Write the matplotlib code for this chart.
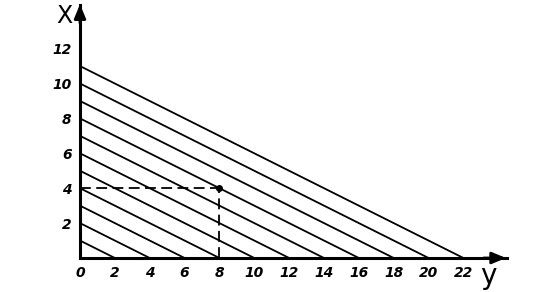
import matplotlib
matplotlib.use("Agg")
import matplotlib.pyplot as plt
import numpy as np

# Data
levels = [1, 2, 3, 4, 5, 6, 7, 8, 9, 10, 11]   # x + y/2 = level
y_ticks = [0, 2, 4, 6, 8, 10, 12, 14, 16, 18, 20, 22]
x_ticks = [2, 4, 6, 8, 10, 12]
point_y, point_x = 8, 4

W, H = 560, 292
fig = plt.figure(figsize=(W / 100, H / 100), dpi=100)
ox, oy = 80, 258          # origin in pixels (from top-left)
right_px, top_px = 507, 5
ax = fig.add_axes([ox / W, (H - oy) / H, (right_px - ox) / W, (oy - top_px) / H])
ax.set_xlim(0, 24.5)
ax.set_ylim(0, 14.5)

for s in ["top", "right"]:
    ax.spines[s].set_visible(False)
for s in ["left", "bottom"]:
    ax.spines[s].set_linewidth(2.2)
    ax.spines[s].set_color("black")

# arrows
ax.annotate("", xy=(24.6, 0), xytext=(23.0, 0),
            arrowprops=dict(arrowstyle="-|>,head_length=0.6,head_width=0.25",
                            color="black", lw=2, mutation_scale=14),
            annotation_clip=False)
ax.annotate("", xy=(0, 14.7), xytext=(0, 13.3),
            arrowprops=dict(arrowstyle="-|>,head_length=0.6,head_width=0.25",
                            color="black", lw=2, mutation_scale=14),
            annotation_clip=False)

# level lines
for k in levels:
    ax.plot([0, 2 * k], [k, 0], color="black", lw=1.3, solid_capstyle="butt")

# dashed guides and point
ax.plot([0, point_y], [point_x, point_x], color="black", lw=1.3, ls=(0, (6, 3)))
ax.plot([point_y, point_y], [0, point_x], color="black", lw=1.3, ls=(0, (6, 3)))
ax.plot([point_y], [point_x], "o", color="black", ms=4)

tick_font = dict(family="DejaVu Sans", style="italic", weight="bold", size=10)
ax.set_xticks(y_ticks)
ax.set_xticklabels([str(v) for v in y_ticks], **tick_font)
ax.set_yticks(x_ticks)
ax.set_yticklabels([str(v) for v in x_ticks], **tick_font)
ax.tick_params(length=0, pad=6)

fig.text(64 / W, 1 - 16 / H, "X", fontsize=17, ha="center", va="center",
         family="DejaVu Sans")
fig.text(488 / W, 1 - 276 / H, "y", fontsize=20, ha="center", va="center",
         family="DejaVu Sans")

fig.savefig("out.png", dpi=100)
